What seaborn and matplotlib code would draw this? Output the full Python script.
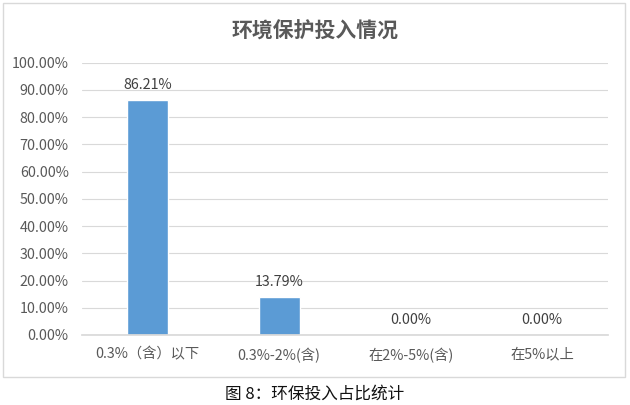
import matplotlib
matplotlib.use('Agg')
import matplotlib.pyplot as plt
from matplotlib.patches import Rectangle
from matplotlib.ticker import PercentFormatter
import seaborn as sns
import pandas as pd

categories = ['0.3%（含）以下', '0.3%-2%(含)', '在2%-5%(含)', '在5%以上']
shares = [86.21, 13.79, 0.00, 0.00]
title = '环境保护投入情况'
caption = '图 8：环保投入占比统计'

sns.set_theme(style='white')
plt.rcParams['font.family'] = ['Noto Sans CJK SC', 'DejaVu Sans']

df = pd.DataFrame({'cat': categories, 'val': shares})

fig = plt.figure(figsize=(6.3, 4.05), dpi=100)
ax = fig.add_axes([0.130, 0.173, 0.835, 0.672])

sns.barplot(data=df, x='cat', y='val', color='#5B9BD5', width=0.31,
            saturation=1, ax=ax)

ax.set_xlim(-0.5, 3.5)
ax.set_ylim(0, 100)
ax.set_yticks(range(0, 101, 10))
ax.yaxis.set_major_formatter(PercentFormatter(decimals=2))
ax.grid(axis='y', color='#d9d9d9', linewidth=0.8)
ax.set_axisbelow(True)
for s in ['top', 'right', 'left']:
    ax.spines[s].set_visible(False)
ax.spines['bottom'].set_color('#d9d9d9')
ax.set_xlabel('')
ax.set_ylabel('')
ax.tick_params(axis='both', length=0, labelsize=10.3, labelcolor='#595959')
ax.tick_params(axis='x', pad=9)
ax.tick_params(axis='y', pad=9.5)

for i, v in enumerate(shares):
    ax.text(i, v + 3, f'{v:.2f}%', ha='center', va='bottom',
            fontsize=10.3, color='#404040')

fig.text(0.5, 0.922, title, ha='center', va='center', fontsize=15,
         fontweight='bold', color='#595959')

fig.patches.append(Rectangle((0.005, 0.069), 0.987, 0.924, transform=fig.transFigure,
                             fill=False, edgecolor='#d9d9d9', linewidth=1))

fig.text(0.5, 0.028, caption, ha='center', va='center', fontsize=12, color='#111111')

fig.savefig('out.png', dpi=100, facecolor='white')
